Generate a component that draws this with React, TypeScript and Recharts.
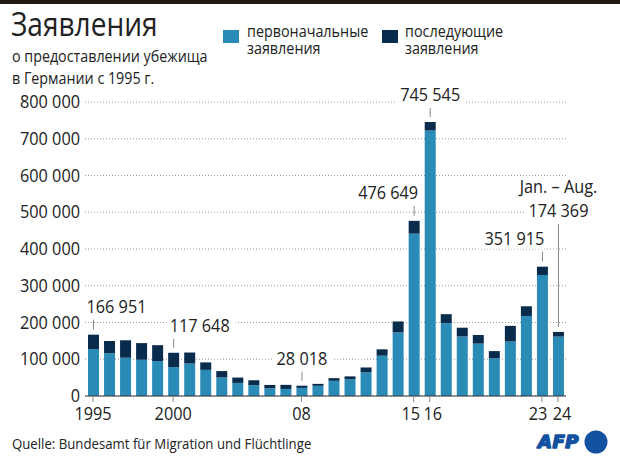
import { BarChart, Bar, XAxis, YAxis, CartesianGrid, LabelList } from 'recharts';

const years = [
  1995, 1996, 1997, 1998, 1999, 2000, 2001, 2002, 2003, 2004,
  2005, 2006, 2007, 2008, 2009, 2010, 2011, 2012, 2013, 2014,
  2015, 2016, 2017, 2018, 2019, 2020, 2021, 2022, 2023, 2024,
];

// first-time applications
const firstApps = [
  127937, 116367, 104353, 98644, 95113, 78564, 88287, 71127, 50563, 35607,
  28914, 21029, 19164, 22085, 27649, 41332, 45741, 64539, 109580, 173072,
  441899, 722370, 198317, 161931, 142509, 102581, 148233, 217774, 329120, 161600,
];

// follow-up applications
const followApps = [
  39014, 33326, 47074, 45290, 43206, 39084, 30019, 20344, 17285, 14545,
  13994, 9071, 11139, 5933, 5384, 7257, 7606, 13112, 17443, 29762,
  34750, 23175, 24366, 23922, 23429, 19589, 42583, 26358, 22795, 12769,
];

const tickLabels = [
  '1995', '', '', '', '', '2000', '', '', '', '',
  '', '', '', '08', '', '', '', '', '', '',
  '15', '16', '', '', '', '', '', '', '23', '24',
];

const yTicks = [0, 100000, 200000, 300000, 400000, 500000, 600000, 700000, 800000];

// years that get a callout with the total
const calloutYears = [1995, 2000, 2008, 2015, 2016, 2023, 2024];
const calloutPrefix: Record<number, string> = { 2024: 'Jan. – Aug.' };

const LIGHT = '#2b8bb7';
const DARK = '#0a2c4c';
const FONT = '"Open Sans", "Noto Sans", sans-serif';
const NARROW = 0.88;

const fmt = (n: number) => String(n).replace(/\B(?=(\d{3})+(?!\d))/g, ' ');

const data = years.map((year, i) => ({
  year,
  label: tickLabels[i],
  first: firstApps[i],
  follow: followApps[i],
  total: firstApps[i] + followApps[i],
}));

// how the callout text sits relative to its bar
const calloutStyle: Record<number, { anchor: 'start' | 'middle' | 'end'; dx: number; rise: number }> = {
  1995: { anchor: 'start', dx: -7, rise: 22 },
  2000: { anchor: 'start', dx: -4, rise: 21 },
  2008: { anchor: 'middle', dx: 0, rise: 21 },
  2015: { anchor: 'end', dx: 4, rise: 22 },
  2016: { anchor: 'middle', dx: 0, rise: 21 },
  2023: { anchor: 'end', dx: 2, rise: 22 },
  2024: { anchor: 'middle', dx: 0, rise: 115 },
};

// nudges for tick labels that sit close together
const tickShift: Record<string, number> = { '15': -3, '16': 3, '23': -4, '24': 4 };

const Narrow = ({ x, y, anchor, size, children }: any) => (
  <text
    transform={`translate(${x},${y}) scale(${NARROW},1)`}
    textAnchor={anchor}
    fontSize={size}
    fill="#222"
    fontFamily={FONT}
  >
    {children}
  </text>
);

const Callout = (props: any) => {
  const { x, y, width, index } = props;
  const row = data[index];
  if (!row || !calloutYears.includes(row.year)) return null;
  const s = calloutStyle[row.year];
  const cx = x + width / 2;
  const tx = cx + s.dx;
  const base = y - s.rise;
  const text = fmt(row.total);
  const prefix = calloutPrefix[row.year];
  const w = text.length * 9.0;
  const left = s.anchor === 'start' ? tx : s.anchor === 'end' ? tx - w : tx - w / 2;
  return (
    <g>
      <rect x={left - 3} y={base - 15} width={w + 6} height={19} fill="#fff" />
      {prefix && (
        <Narrow x={tx} y={base - 24} anchor={s.anchor} size={18.5}>
          {prefix}
        </Narrow>
      )}
      <Narrow x={tx} y={base} anchor={s.anchor} size={18.5}>
        {text}
      </Narrow>
      <line x1={cx} x2={cx} y1={base + 7} y2={y - 5} stroke="#888" strokeWidth={1} />
    </g>
  );
};

const XTick = (props: any) => {
  const { x, y, payload } = props;
  if (!payload.value) return null;
  return (
    <g>
      <line x1={x} x2={x} y1={y - 8} y2={y - 2} stroke="#888" />
      <Narrow x={x + (tickShift[payload.value] || 0)} y={y + 16} anchor="middle" size={18.5}>
        {payload.value}
      </Narrow>
    </g>
  );
};

const YTick = (props: any) => {
  const { x, y, payload } = props;
  return (
    <Narrow x={x} y={y + 6} anchor="end" size={18.5}>
      {fmt(payload.value)}
    </Narrow>
  );
};

const narrowCss = (k: number) => ({ transform: `scaleX(${k})`, transformOrigin: 'left top', whiteSpace: 'nowrap' as const });

const App = () => {
  return (
    <div style={{ position: 'absolute', left: 0, top: 0, width: 620, height: 465, background: '#fff', fontFamily: FONT, color: '#222', overflow: 'hidden' }}>
      <div style={{ position: 'absolute', left: 0, top: 0, width: 620, height: 4, background: '#231a14' }} />
      <div style={{ position: 'absolute', left: 11, top: 2, fontSize: 33, lineHeight: '44px', ...narrowCss(0.85) }}>Заявления</div>
      <div style={{ position: 'absolute', left: 12, top: 45, fontSize: 17, lineHeight: '22px', ...narrowCss(0.84) }}>
        о предоставлении убежища
        <br />
        в Германии с 1995 г.
      </div>

      <div style={{ position: 'absolute', left: 223, top: 30, width: 16, height: 13, background: LIGHT }} />
      <div style={{ position: 'absolute', left: 247, top: 22, fontSize: 16.5, lineHeight: '17px', ...narrowCss(0.87) }}>
        первоначальные
        <br />
        заявления
      </div>
      <div style={{ position: 'absolute', left: 382, top: 30, width: 16, height: 13, background: DARK }} />
      <div style={{ position: 'absolute', left: 405, top: 22, fontSize: 16.5, lineHeight: '17px', ...narrowCss(0.87) }}>
        последующие
        <br />
        заявления
      </div>

      <div style={{ position: 'absolute', left: 0, top: 0 }}>
        <BarChart
          width={620}
          height={465}
          data={data}
          margin={{ top: 102, right: 54, bottom: 39, left: 0 }}
          barSize={11}
        >
          <CartesianGrid vertical={false} stroke="#999" strokeDasharray="1 2" />
          <YAxis
            domain={[0, 800000]}
            ticks={yTicks}
            width={85}
            axisLine={false}
            tickLine={false}
            tickSize={0}
            tickMargin={5}
            tick={<YTick />}
          />
          <XAxis
            dataKey="label"
            interval={0}
            height={30}
            axisLine={{ stroke: '#333', strokeWidth: 1 }}
            tickLine={false}
            tickSize={6}
            tickMargin={2}
            tick={<XTick />}
          />
          <Bar dataKey="first" stackId="a" fill={LIGHT} isAnimationActive={false} />
          <Bar dataKey="follow" stackId="a" fill={DARK} isAnimationActive={false}>
            <LabelList dataKey="total" content={<Callout />} />
          </Bar>
        </BarChart>
      </div>

      <div style={{ position: 'absolute', left: 12, top: 434, fontSize: 15, lineHeight: '18px', ...narrowCss(NARROW) }}>
        Quelle: Bundesamt für Migration und Flüchtlinge
      </div>
      <svg style={{ position: 'absolute', left: 530, top: 420 }} width={90} height={45}>
        <text
          x={8}
          y={28}
          fontSize={18}
          fontWeight={700}
          fontStyle="italic"
          fill="#12519f"
          stroke="#12519f"
          strokeWidth={1.6}
          strokeLinejoin="round"
          fontFamily='"DejaVu Sans", sans-serif'
          letterSpacing={0.5}
        >
          AFP
        </text>
        <circle cx={66} cy={22} r={11.5} fill="#12519f" />
      </svg>
    </div>
  );
};

export default App;
